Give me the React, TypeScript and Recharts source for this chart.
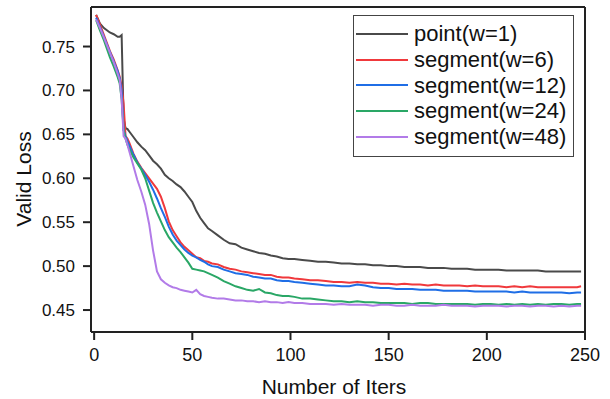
import { LineChart, Line, XAxis, YAxis, ReferenceLine } from "recharts";

// iteration index (x)
const iters = [
  1, 3, 5, 8, 10, 12, 13, 14, 15, 16, 17, 18,
  20, 22, 24, 26, 28, 30, 32, 34, 36, 38, 40, 42, 44, 46, 48, 50, 52, 54, 56, 58, 60,
  63, 66, 69, 72, 75, 78, 81, 84, 87, 90, 93, 96, 99,
  102, 106, 110, 114, 118, 122, 126, 130, 134, 138, 142, 146, 150, 154, 158, 162, 166, 170,
  174, 178, 182, 186, 190, 194, 198, 202, 206, 210, 214, 218, 222, 226, 230, 234, 238, 242, 246, 248,
];

const pointW1 = [
  0.786, 0.776, 0.771, 0.766, 0.764, 0.761, 0.761, 0.763, 0.668, 0.657, 0.656, 0.653,
  0.647, 0.641, 0.636, 0.632, 0.626, 0.620, 0.616, 0.611, 0.604, 0.600, 0.597, 0.593, 0.590, 0.585, 0.579, 0.573, 0.563, 0.555, 0.549, 0.543, 0.540,
  0.535, 0.530, 0.526, 0.525, 0.521, 0.519, 0.517, 0.515, 0.514, 0.512, 0.511, 0.509, 0.508,
  0.508, 0.507, 0.506, 0.505, 0.505, 0.504, 0.503, 0.503, 0.502, 0.502, 0.501, 0.501, 0.500, 0.500, 0.499, 0.499, 0.499, 0.498,
  0.498, 0.498, 0.497, 0.497, 0.497, 0.496, 0.496, 0.496, 0.496, 0.495, 0.495, 0.495, 0.495, 0.495, 0.494, 0.494, 0.494, 0.494, 0.494, 0.494,
];

const segW6 = [
  0.786, 0.775, 0.763, 0.745, 0.735, 0.723, 0.716, 0.705, 0.685, 0.648, 0.645, 0.640,
  0.628, 0.619, 0.612, 0.606, 0.600, 0.594, 0.588, 0.579, 0.566, 0.551, 0.541, 0.534, 0.527, 0.522, 0.518, 0.514, 0.510, 0.509, 0.506, 0.505, 0.503,
  0.502, 0.499, 0.497, 0.496, 0.494, 0.493, 0.492, 0.491, 0.490, 0.490, 0.488, 0.487, 0.487,
  0.486, 0.485, 0.484, 0.484, 0.483, 0.482, 0.482, 0.481, 0.482, 0.481, 0.481, 0.480, 0.480, 0.479, 0.480, 0.479, 0.479, 0.478,
  0.479, 0.478, 0.478, 0.478, 0.477, 0.478, 0.477, 0.477, 0.477, 0.476, 0.477, 0.476, 0.477, 0.476, 0.476, 0.476, 0.476, 0.476, 0.476, 0.477,
];

const segW12 = [
  0.783, 0.772, 0.761, 0.744, 0.733, 0.722, 0.714, 0.700, 0.655, 0.648, 0.642, 0.637,
  0.627, 0.618, 0.611, 0.604, 0.596, 0.587, 0.577, 0.566, 0.556, 0.545, 0.536, 0.529, 0.524, 0.519, 0.515, 0.512, 0.510, 0.507, 0.505, 0.502, 0.500,
  0.499, 0.496, 0.494, 0.492, 0.491, 0.490, 0.488, 0.487, 0.486, 0.486, 0.484, 0.483, 0.483,
  0.482, 0.481, 0.480, 0.479, 0.478, 0.478, 0.477, 0.477, 0.479, 0.478, 0.476, 0.475, 0.475, 0.474, 0.474, 0.474, 0.473, 0.473,
  0.473, 0.472, 0.472, 0.472, 0.472, 0.471, 0.471, 0.471, 0.471, 0.471, 0.470, 0.471, 0.470, 0.470, 0.470, 0.470, 0.470, 0.469, 0.470, 0.470,
];

const segW24 = [
  0.780, 0.768, 0.757, 0.738, 0.727, 0.715, 0.708, 0.690, 0.655, 0.645, 0.638, 0.633,
  0.624, 0.617, 0.610, 0.600, 0.586, 0.572, 0.561, 0.551, 0.541, 0.533, 0.527, 0.521, 0.516, 0.510, 0.504, 0.497, 0.496, 0.495, 0.494, 0.492, 0.490,
  0.487, 0.483, 0.480, 0.477, 0.475, 0.473, 0.472, 0.474, 0.470, 0.469, 0.467, 0.466, 0.466,
  0.465, 0.463, 0.463, 0.462, 0.461, 0.460, 0.460, 0.459, 0.460, 0.459, 0.459, 0.458, 0.458, 0.458, 0.458, 0.457, 0.458, 0.458,
  0.457, 0.457, 0.457, 0.457, 0.457, 0.456, 0.457, 0.457, 0.456, 0.457, 0.456, 0.457, 0.456, 0.457, 0.456, 0.457, 0.457, 0.456, 0.457, 0.457,
];

const segW48 = [
  0.781, 0.771, 0.760, 0.743, 0.732, 0.719, 0.712, 0.690, 0.648, 0.645, 0.638, 0.630,
  0.614, 0.598, 0.585, 0.570, 0.548, 0.518, 0.494, 0.485, 0.481, 0.478, 0.476, 0.475, 0.473, 0.472, 0.471, 0.470, 0.473, 0.468, 0.466, 0.465, 0.464,
  0.463, 0.463, 0.462, 0.461, 0.461, 0.460, 0.460, 0.459, 0.460, 0.459, 0.459, 0.458, 0.459,
  0.458, 0.458, 0.457, 0.457, 0.457, 0.456, 0.457, 0.456, 0.456, 0.456, 0.455, 0.456, 0.456, 0.455, 0.455, 0.456, 0.455, 0.455,
  0.455, 0.456, 0.455, 0.455, 0.455, 0.454, 0.455, 0.455, 0.455, 0.454, 0.455, 0.455, 0.454, 0.455, 0.455, 0.454, 0.455, 0.454, 0.455, 0.455,
];

const xTicks = [0, 50, 100, 150, 200, 250];
const yTicks = [0.45, 0.5, 0.55, 0.6, 0.65, 0.7, 0.75];

const series = [
  { key: "w1", name: "point(w=1)", color: "#4a4a4a", values: pointW1 },
  { key: "w6", name: "segment(w=6)", color: "#f0393c", values: segW6 },
  { key: "w12", name: "segment(w=12)", color: "#1f6ee6", values: segW12 },
  { key: "w24", name: "segment(w=24)", color: "#2aa766", values: segW24 },
  { key: "w48", name: "segment(w=48)", color: "#b27be8", values: segW48 },
];

const data = iters.map((it, i) => {
  const row: any = { iter: it };
  series.forEach((s) => {
    row[s.key] = s.values[i];
  });
  return row;
});

const FONT = '"Liberation Sans", Arial, sans-serif';
const AXIS = "#222";

export default function App() {
  return (
    <div style={{ position: "relative", width: 610, height: 399, fontFamily: FONT }}>
      <style>{`body { margin: 0; }`}</style>
      <LineChart
        width={610}
        height={399}
        data={data}
        margin={{ top: 7, right: 25, left: 0, bottom: 7 }}
      >
        <XAxis
          dataKey="iter"
          type="number"
          domain={[-1.6, 250]}
          ticks={xTicks}
          height={60}
          tickSize={8}
          tickMargin={8}
          axisLine={{ stroke: AXIS, strokeWidth: 2 }}
          tickLine={{ stroke: AXIS, strokeWidth: 2 }}
          tick={{ fill: "#111", fontSize: 18, fontFamily: FONT }}
          label={() => (
            <text x={334} y={394} textAnchor="middle" fontSize={21} fill="#111" fontFamily={FONT}>
              Number of Iters
            </text>
          )}
        />
        <YAxis
          type="number"
          domain={[0.425, 0.795]}
          ticks={yTicks}
          width={91}
          tickSize={8}
          tickMargin={8}
          tickFormatter={(v: number) => v.toFixed(2)}
          axisLine={{ stroke: AXIS, strokeWidth: 2 }}
          tickLine={{ stroke: AXIS, strokeWidth: 2 }}
          tick={{ fill: "#111", fontSize: 17, fontFamily: FONT }}
          label={() => (
            <text
              x={31}
              y={179}
              transform="rotate(-90 31 179)"
              textAnchor="middle"
              fontSize={21}
              fill="#111"
              fontFamily={FONT}
            >
              Valid Loss
            </text>
          )}
        />
        <ReferenceLine y={0.795} stroke={AXIS} strokeWidth={2} />
        <ReferenceLine x={250} stroke={AXIS} strokeWidth={2} />
        {series.map((s) => (
          <Line
            key={s.key}
            dataKey={s.key}
            name={s.name}
            type="linear"
            stroke={s.color}
            strokeWidth={2}
            dot={false}
            isAnimationActive={false}
          />
        ))}
      </LineChart>

      {/* legend box */}
      <div
        style={{
          position: "absolute",
          left: 353,
          top: 15,
          width: 221,
          height: 142,
          boxSizing: "border-box",
          border: "1px solid #444",
          background: "#fff",
          paddingTop: 5,
        }}
      >
        {series.map((s) => (
          <div key={s.key} style={{ display: "flex", alignItems: "center", height: 25.8 }}>
            <span
              style={{
                display: "inline-block",
                width: 52,
                height: 2,
                marginLeft: 2,
                background: s.color,
              }}
            />
            <span style={{ marginLeft: 6, fontSize: 22, color: "#111", lineHeight: "25.8px" }}>
              {s.name}
            </span>
          </div>
        ))}
      </div>
    </div>
  );
}
